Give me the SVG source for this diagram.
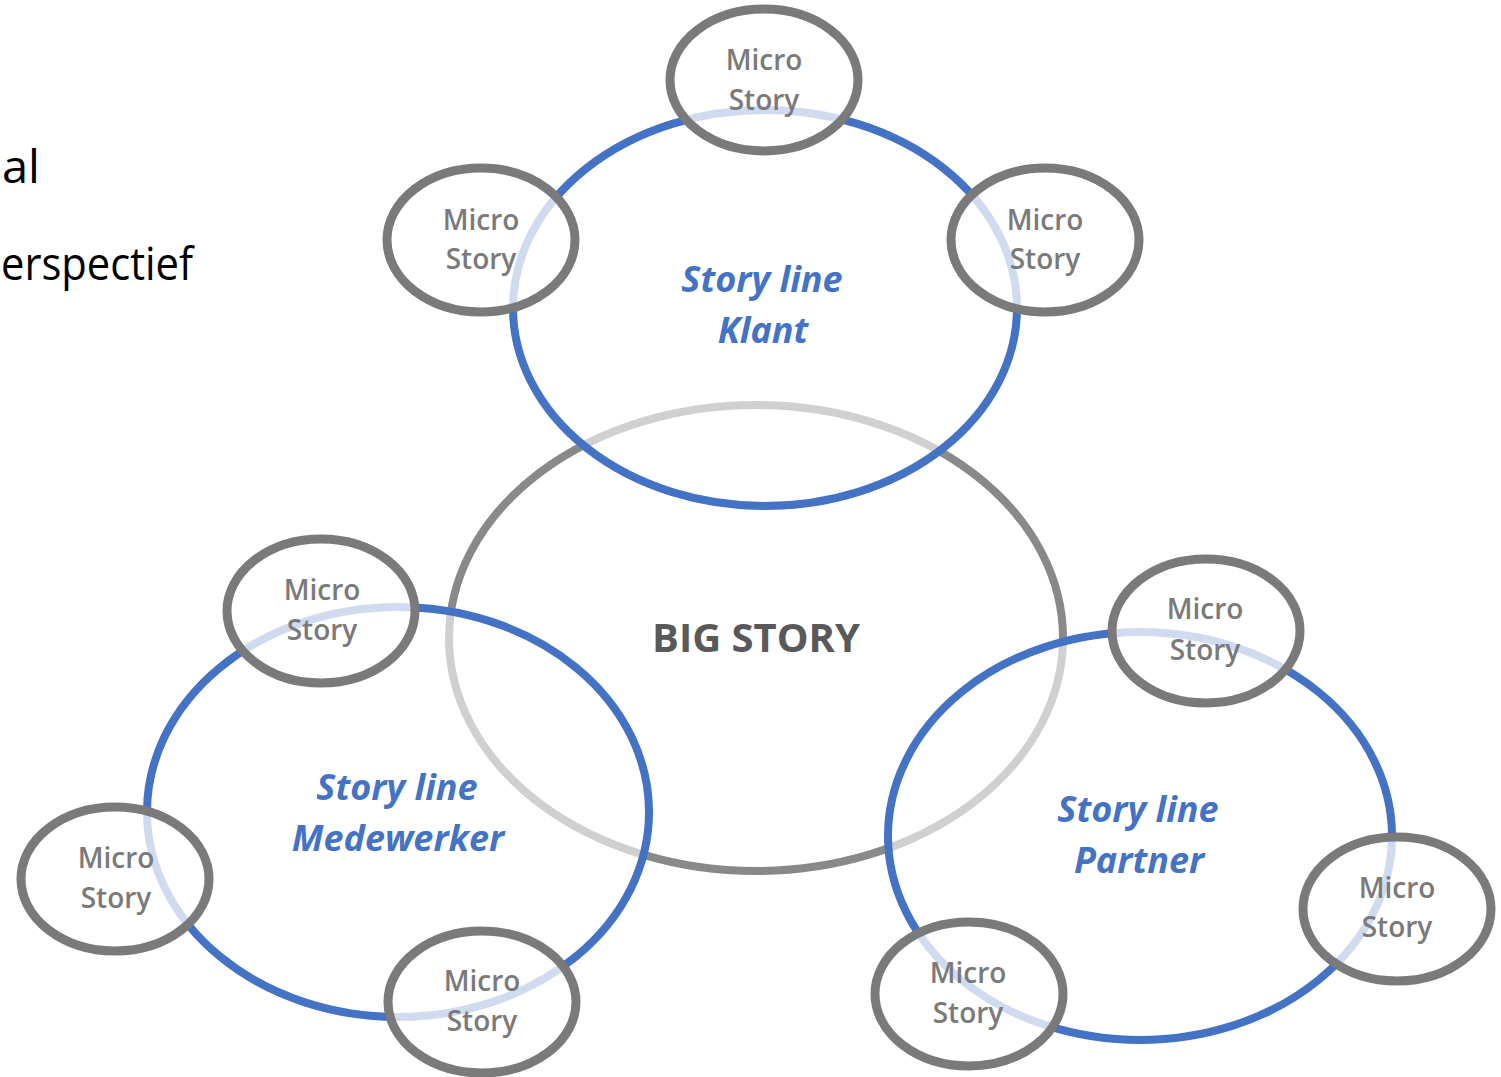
<svg xmlns="http://www.w3.org/2000/svg" width="1501" height="1077" viewBox="0 0 1501 1077">
<style>
.big{fill:#ffffff;stroke:#898989;stroke-width:8}
.line{fill:#ffffff;fill-opacity:0.6;stroke:#4472c4;stroke-width:8}
.micro{fill:#ffffff;fill-opacity:0.75;stroke:#7a7a7a;stroke-width:9}
.mt{font-family:"Open Sans","Liberation Sans",sans-serif;font-weight:600;font-size:28px;fill:#7a7a7a;text-anchor:middle}
.lt{font-family:"Open Sans","Liberation Sans",sans-serif;font-weight:700;font-style:italic;font-size:36px;fill:#4472c4;text-anchor:middle}
.bt{font-family:"Open Sans","Liberation Sans",sans-serif;font-weight:700;font-size:40px;fill:#595959;text-anchor:middle}
.side{font-family:"Open Sans","Liberation Sans",sans-serif;font-size:45px;fill:#000000}
</style>
<rect width="1501" height="1077" fill="#ffffff"/>
<g id="side-text">
<text class="side" x="2" y="183" textLength="38" lengthAdjust="spacingAndGlyphs">al</text>
<text class="side" x="1" y="280" textLength="192" lengthAdjust="spacingAndGlyphs">erspectief</text>
</g>
<g id="big-story">
<ellipse class="big" cx="756" cy="638" rx="307" ry="233"/>
<text class="bt" x="756" y="652">BIG STORY</text>
</g>
<g id="connectors"></g>
<g id="storyline-klant">
<ellipse class="line" cx="765" cy="308" rx="252" ry="198"/>
<text class="lt" x="762" y="292">Story line</text>
<text class="lt" x="763" y="343">Klant</text>
</g>
<g id="storyline-medewerker">
<ellipse class="line" cx="398" cy="812" rx="251" ry="205"/>
<text class="lt" x="397" y="800">Story line</text>
<text class="lt" x="398" y="851">Medewerker</text>
</g>
<g id="storyline-partner">
<ellipse class="line" cx="1140" cy="836" rx="252" ry="204"/>
<text class="lt" x="1138" y="822">Story line</text>
<text class="lt" x="1139" y="873">Partner</text>
</g>
<g id="micro-1">
<ellipse class="micro" cx="764" cy="80" rx="94" ry="71"/>
<text class="mt" x="764" y="70">Micro</text>
<text class="mt" x="764" y="110">Story</text>
</g>
<g id="micro-2">
<ellipse class="micro" cx="481" cy="240" rx="94" ry="72"/>
<text class="mt" x="481" y="230">Micro</text>
<text class="mt" x="481" y="269">Story</text>
</g>
<g id="micro-3">
<ellipse class="micro" cx="1045" cy="240" rx="94" ry="72"/>
<text class="mt" x="1045" y="230">Micro</text>
<text class="mt" x="1045" y="269">Story</text>
</g>
<g id="micro-4">
<ellipse class="micro" cx="321" cy="611" rx="94" ry="72"/>
<text class="mt" x="322" y="600">Micro</text>
<text class="mt" x="322" y="640">Story</text>
</g>
<g id="micro-5">
<ellipse class="micro" cx="115" cy="879" rx="94" ry="72"/>
<text class="mt" x="116" y="868">Micro</text>
<text class="mt" x="116" y="908">Story</text>
</g>
<g id="micro-6">
<ellipse class="micro" cx="482" cy="1002" rx="94" ry="71"/>
<text class="mt" x="482" y="991">Micro</text>
<text class="mt" x="482" y="1031">Story</text>
</g>
<g id="micro-7">
<ellipse class="micro" cx="1206" cy="631" rx="94" ry="72"/>
<text class="mt" x="1205" y="619">Micro</text>
<text class="mt" x="1205" y="660">Story</text>
</g>
<g id="micro-8">
<ellipse class="micro" cx="1397" cy="909" rx="94" ry="72"/>
<text class="mt" x="1397" y="898">Micro</text>
<text class="mt" x="1397" y="937">Story</text>
</g>
<g id="micro-9">
<ellipse class="micro" cx="969" cy="994" rx="94" ry="72"/>
<text class="mt" x="968" y="983">Micro</text>
<text class="mt" x="968" y="1023">Story</text>
</g>
</svg>
